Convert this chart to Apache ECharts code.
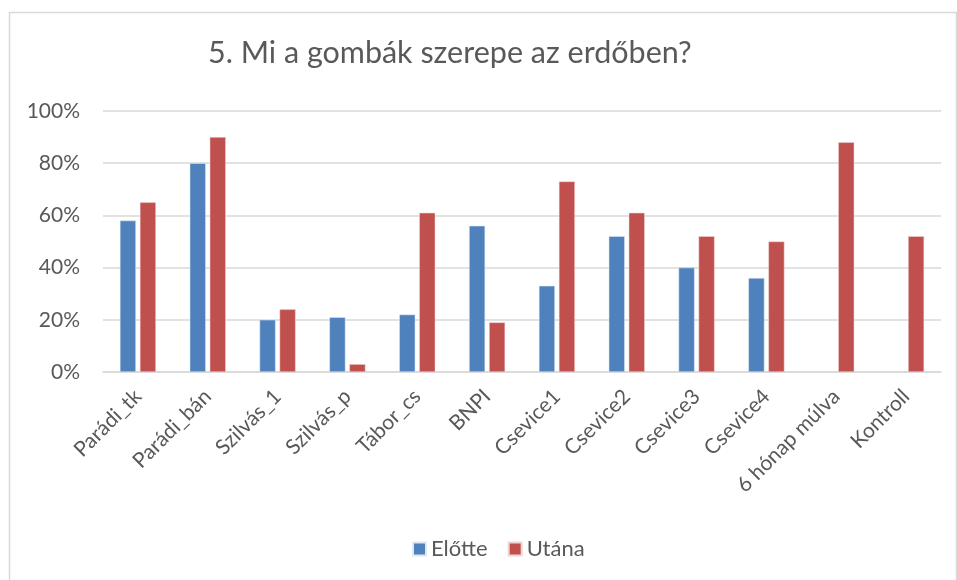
<!DOCTYPE html>
<html>
<head>
<meta charset="utf-8">
<script src="https://cdn.jsdelivr.net/npm/echarts@6/dist/echarts.min.js"></script>
<style>
  html, body { margin: 0; padding: 0; background: #fff; }
  #chart { width: 957px; height: 580px; }
</style>
</head>
<body>
<div id="chart"></div>
<script>
// Survey question results, share of correct answers per group
const titleText = '5. Mi a gombák szerepe az erdőben?';
const categories = ['Parádi_tk', 'Parádi_bán', 'Szilvás_1', 'Szilvás_p', 'Tábor_cs', 'BNPI',
  'Csevice1', 'Csevice2', 'Csevice3', 'Csevice4', '6 hónap múlva', 'Kontroll'];
const seriesNames = ['Előtte', 'Utána'];
const before = [58, 80, 20, 21, 22, 56, 33, 52, 40, 36, null, null];
const after = [65, 90, 24, 3, 61, 19, 73, 61, 52, 50, 88, 52];
const yTicks = [0, 20, 40, 60, 80, 100];

const font = 'Lato, "Open Sans", sans-serif';
const textColor = '#595959';

const chart = echarts.init(document.getElementById('chart'), null, { renderer: 'canvas' });
chart.setOption({
  animation: false,
  backgroundColor: '#fff',
  graphic: [{
    type: 'rect',
    shape: { x: 9.5, y: 12.5, width: 947, height: 600 },
    style: { fill: 'none', stroke: '#d9d9d9', lineWidth: 1.5 },
    silent: true
  }],
  title: {
    text: titleText,
    left: 203,
    top: 33,
    textStyle: { fontFamily: font, fontSize: 30.5, fontWeight: 'normal', color: textColor }
  },
  legend: {
    data: seriesNames,
    bottom: 15,
    left: 407,
    itemWidth: 13,
    itemHeight: 13,
    itemGap: 20,
    icon: 'rect',
    textStyle: { fontFamily: font, fontSize: 22, color: textColor }
  },
  grid: { left: 103, right: 16, top: 111, bottom: 208, containLabel: false },
  xAxis: {
    type: 'category',
    data: categories,
    axisLine: { lineStyle: { color: '#d9d9d9', width: 1.5 } },
    axisTick: { show: false },
    axisLabel: {
      rotate: 45,
      interval: 0,
      margin: 21,
      fontFamily: font,
      fontSize: 21,
      color: textColor
    }
  },
  yAxis: {
    type: 'value',
    min: yTicks[0],
    max: yTicks[yTicks.length - 1],
    interval: 20,
    axisLine: { show: false },
    axisTick: { show: false },
    splitLine: { lineStyle: { color: '#d9d9d9', width: 1.5 } },
    axisLabel: {
      formatter: v => v + '%',
      margin: 23,
      fontFamily: font,
      fontSize: 21,
      color: textColor
    }
  },
  series: [
    {
      name: seriesNames[0],
      type: 'bar',
      data: before,
      barWidth: 16,
      barGap: '25%',
      itemStyle: { color: '#4F81BD', borderColor: '#dfe8f3', borderWidth: 0.5 }
    },
    {
      name: seriesNames[1],
      type: 'bar',
      data: after,
      barWidth: 16,
      barGap: '25%',
      itemStyle: { color: '#C0504D', borderColor: '#f0d6d5', borderWidth: 0.5 }
    }
  ]
});
</script>
</body>
</html>
